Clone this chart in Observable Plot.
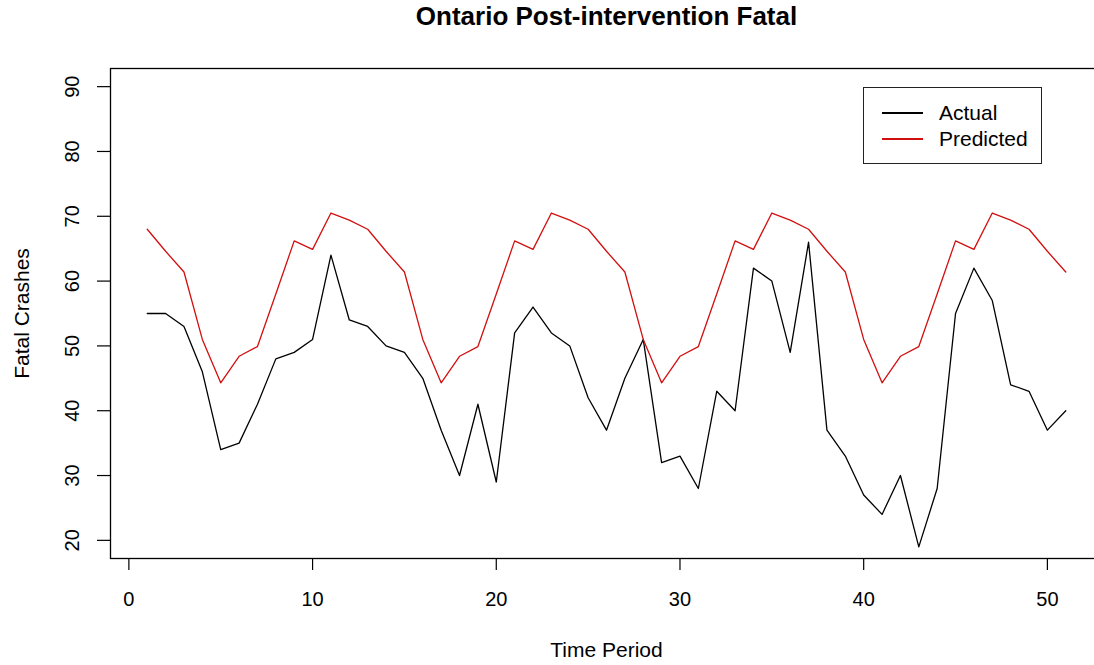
<!DOCTYPE html>
<html>
<head>
<meta charset="utf-8">
<script src="https://cdn.jsdelivr.net/npm/d3@7"></script>
<script src="https://cdn.jsdelivr.net/npm/@observablehq/plot@0.6"></script>
<style>
  html, body { margin: 0; padding: 0; background: #fff; overflow: hidden; }
  #chart { position: relative; width: 1094px; height: 665px; overflow: hidden;
           font-family: "Liberation Sans", Arial, sans-serif; color: #000; }
  .legend { position: absolute; left: 863px; top: 87px; width: 179px; height: 77px;
            border: 1.5px solid #222; box-sizing: border-box; background: #fff; }
  .legend .item { position: absolute; left: 0; height: 26px; width: 100%; }
  .legend .swatch { position: absolute; left: 18px; width: 41px; height: 0; top: 12px; border-top: 2.4px solid; }
  .legend .lab { position: absolute; left: 75px; top: 0; font-size: 21px; line-height: 26px; }
</style>
</head>
<body>
<div id="chart"></div>
<script>
// Ontario post-intervention fatal crashes: observed vs. model prediction
const titleText = "Ontario Post-intervention Fatal";
const xLabel = "Time Period";
const yLabel = "Fatal Crashes";

const period = [1, 2, 3, 4, 5, 6, 7, 8, 9, 10, 11, 12, 13, 14, 15, 16, 17, 18, 19, 20,
  21, 22, 23, 24, 25, 26, 27, 28, 29, 30, 31, 32, 33, 34, 35, 36, 37, 38, 39, 40,
  41, 42, 43, 44, 45, 46, 47, 48, 49, 50, 51];

const actual = [55, 55, 53, 46, 34, 35, 41, 48, 49, 51, 64, 54, 53, 50, 49, 45, 37, 30, 41, 29,
  52, 56, 52, 50, 42, 37, 45, 51, 32, 33, 28, 43, 40, 62, 60, 49, 66, 37, 33, 27,
  24, 30, 19, 28, 55, 62, 57, 44, 43, 37, 40];

const predicted = [68.0, 64.6, 61.4, 51.0, 44.3, 48.4, 49.9, 58.0, 66.2, 64.9, 70.5, 69.4,
  68.0, 64.6, 61.4, 51.0, 44.3, 48.4, 49.9, 58.0, 66.2, 64.9, 70.5, 69.4,
  68.0, 64.6, 61.4, 51.0, 44.3, 48.4, 49.9, 58.0, 66.2, 64.9, 70.5, 69.4,
  68.0, 64.6, 61.4, 51.0, 44.3, 48.4, 49.9, 58.0, 66.2, 64.9, 70.5, 69.4,
  68.0, 64.6, 61.4];

const xTicks = [0, 10, 20, 30, 40, 50];
const yTicks = [20, 30, 40, 50, 60, 70, 80, 90];

const seriesNames = ["Actual", "Predicted"];
const seriesColors = ["#000000", "#d20f0f"];

const rows = period.map((p, i) => ({period: p, actual: actual[i], predicted: predicted[i]}));

const chart = Plot.plot({
  width: 1094,
  height: 665,
  marginLeft: 110,
  marginRight: -8,
  marginTop: 68,
  marginBottom: 107,
  style: {fontFamily: "'Liberation Sans', Arial, sans-serif", background: "#fff", color: "#000", overflow: "hidden"},
  x: {domain: [-1, 53]},
  y: {domain: [17.2, 92.8]},
  marks: [
    Plot.frame({stroke: "#000", strokeWidth: 1.3}),
    Plot.axisX({ticks: xTicks, tickSize: 12, tickPadding: 21, fontSize: 20, label: null, strokeWidth: 1.2}),
    Plot.axisY({ticks: yTicks, tickSize: 13, tickFormat: () => "", label: null, strokeWidth: 1.2}),
    Plot.text(yTicks, {y: d => d, text: d => String(d), frameAnchor: "left", rotate: -90,
      dx: -38, textAnchor: "middle", lineAnchor: "middle", fontSize: 20}),
    Plot.line(rows, {x: "period", y: "actual", stroke: seriesColors[0], strokeWidth: 1.3}),
    Plot.line(rows, {x: "period", y: "predicted", stroke: seriesColors[1], strokeWidth: 1.3}),
    Plot.text([titleText], {text: d => d, frameAnchor: "top", dy: -52, fontSize: 26,
      fontWeight: "bold", lineAnchor: "middle"}),
    Plot.text([xLabel], {text: d => d, frameAnchor: "bottom", dy: 92, fontSize: 21, lineAnchor: "middle"}),
    Plot.text([yLabel], {text: d => d, frameAnchor: "left", dx: -88, rotate: -90,
      fontSize: 21, lineAnchor: "middle", textAnchor: "middle"})
  ]
});

const host = document.getElementById("chart");
host.appendChild(chart);

// legend box in the top-right corner of the plotting region
const legend = document.createElement("div");
legend.className = "legend";
seriesNames.forEach((name, i) => {
  const item = document.createElement("div");
  item.className = "item";
  item.style.top = (12 + i * 26) + "px";
  const sw = document.createElement("div");
  sw.className = "swatch";
  sw.style.borderTopColor = seriesColors[i];
  const lab = document.createElement("div");
  lab.className = "lab";
  lab.textContent = name;
  item.appendChild(sw);
  item.appendChild(lab);
  legend.appendChild(item);
});
host.appendChild(legend);
</script>
</body>
</html>
